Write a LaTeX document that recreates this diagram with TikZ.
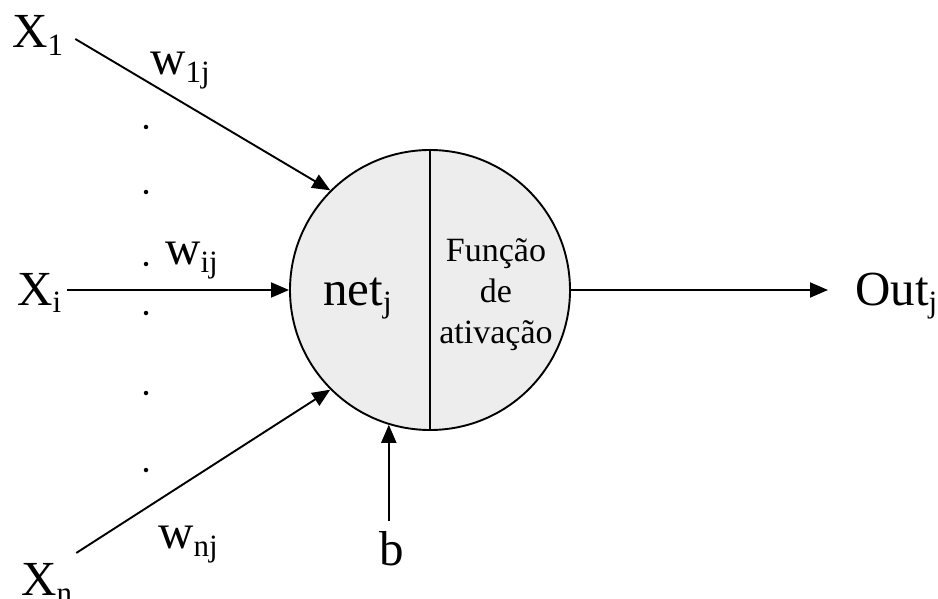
\documentclass[tikz,border=0pt]{standalone}
\usepackage{fontspec}
\setmainfont{Liberation Serif}
\usetikzlibrary{arrows.meta}
\newcommand{\sbs}[1]{\raisebox{-8pt}{\fontsize{31}{31}\selectfont #1}}
\begin{document}
\begin{tikzpicture}[x=1pt,y=-1pt,
  lbl/.style={inner sep=0pt,font=\fontsize{49}{56}\selectfont},
  arr/.style={line width=1.9pt,-{Triangle[length=18pt,width=15pt]}},
  dotm/.style={circle,fill=black,inner sep=0pt,minimum size=4.5pt}]
\useasboundingbox (0,0) rectangle (938,599);
\fill[white] (0,0) rectangle (938,599);
% neuron
\node[circle,draw,line width=1.9pt,fill=gray!14,minimum size=280pt,inner sep=0pt] (n) at (430,290) {};
\draw[line width=1.9pt] (n.north) -- (n.south);
\node[lbl,anchor=base west] (net) at (323,305) {net\sbs{j}};
\node[align=center,font=\fontsize{34}{41}\selectfont,inner sep=0pt] (fa) at (496,295) {Função\\de\\ativação};
% inputs
\node[lbl,anchor=base west] (X1) at (12,48) {X\sbs{1}};
\node[lbl,anchor=base west] (Xi) at (17,305) {X\sbs{i}};
\node[lbl,anchor=base west] (Xn) at (21,595) {X\sbs{n}};
\node[lbl,anchor=base west] (w1) at (150,75) {w\sbs{1j}};
\node[lbl,anchor=base west] (wi) at (165,265) {w\sbs{ij}};
\node[lbl,anchor=base west] (wn) at (158,548) {w\sbs{nj}};
\draw[arr] ([xshift=12pt,yshift=-3pt]X1.east) -- (n.135);
\draw[arr] ([xshift=6pt]Xi.east |- n.west) -- (n.west);
\draw[arr] ([xshift=4pt,yshift=30pt]Xn.east) -- (n.225);
% dots
\foreach \yy [count=\k] in {127,192,264,313,393,470}
  \node[dotm] (d\k) at (146,\yy) {};
% bias
\node[lbl,anchor=base] (b) at (392,565) {b};
\draw[arr] (n.253 |- 0,521) coordinate (bs) -- (n.253);
% output
\node[lbl,anchor=base west] (out) at (855,305) {Out\sbs{j}};
\draw[arr,shorten >=27pt] (n.east) -- (n.east -| out.west);
\end{tikzpicture}
\end{document}
